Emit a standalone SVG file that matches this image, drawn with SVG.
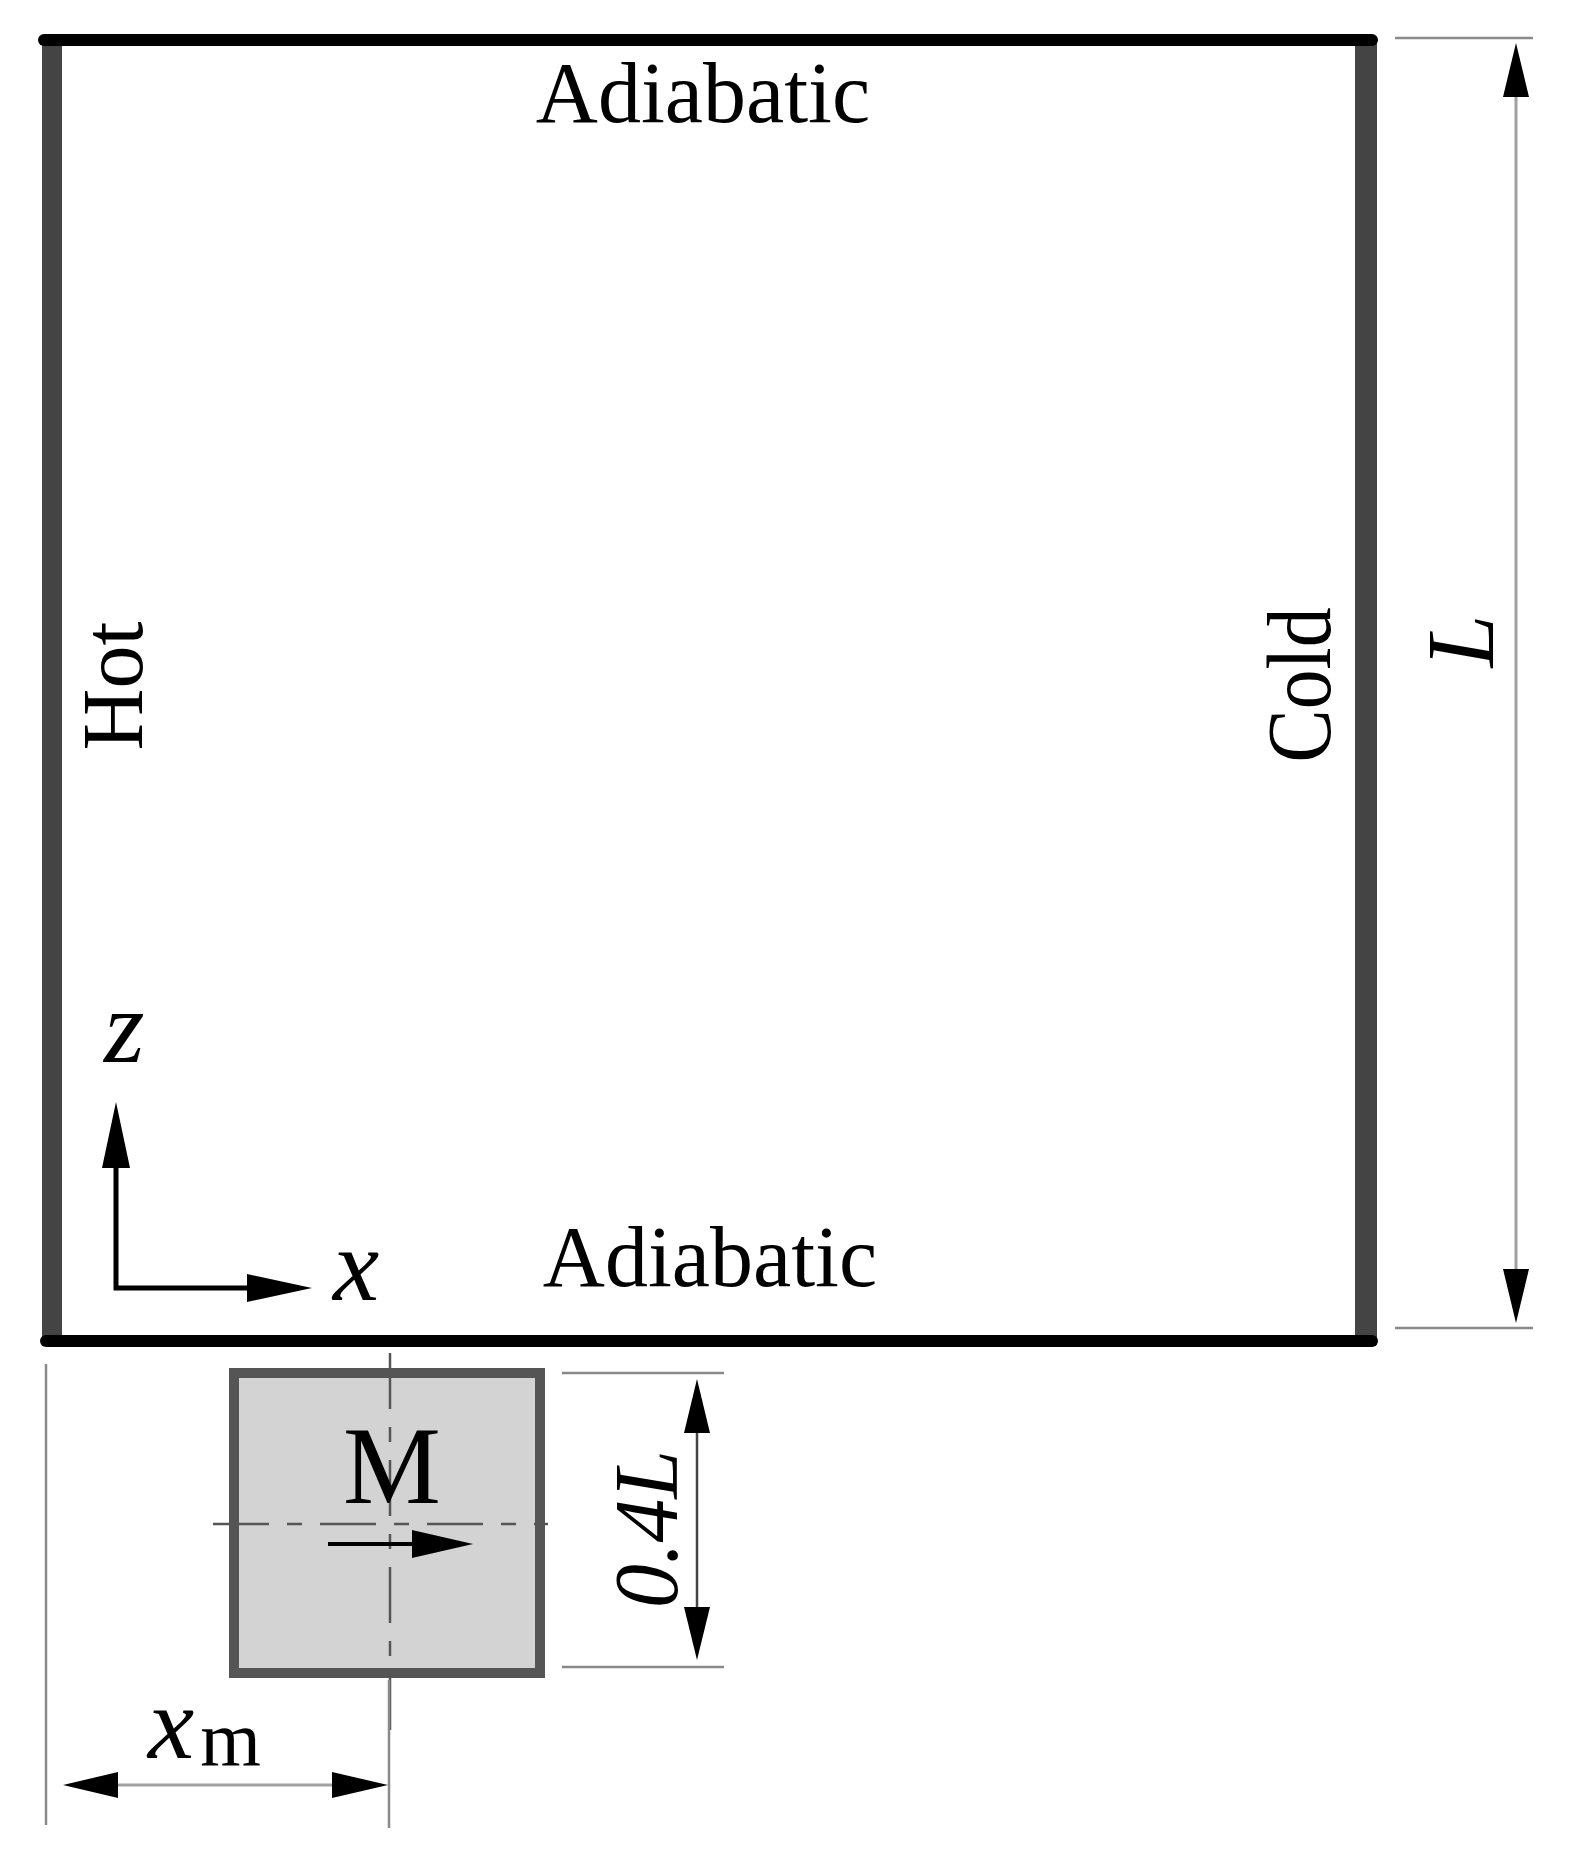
<svg xmlns="http://www.w3.org/2000/svg" width="1574" height="1861" viewBox="0 0 1574 1861">
<style>
.t{font-family:"Liberation Serif","Times New Roman",serif;fill:#000}
.i{font-style:italic}
.ext{stroke:#8a8a8a;stroke-width:2.5;fill:none}
.dim{stroke:#a0a0a0;stroke-width:3;fill:none}
.ah{fill:#000}
.cl{stroke:#555;stroke-width:2.5;fill:none;stroke-dasharray:56 18 15 18}
</style>
<rect width="1574" height="1861" fill="#fff"/>
<g id="cavity">
<line x1="52" y1="36" x2="52" y2="1345" stroke="#444" stroke-width="20"/>
<line x1="1366" y1="42" x2="1366" y2="1345" stroke="#444" stroke-width="22"/>
<line x1="44" y1="40" x2="1372" y2="40" stroke="#000" stroke-width="12" stroke-linecap="round"/>
<line x1="46" y1="1341" x2="1372" y2="1341" stroke="#000" stroke-width="12" stroke-linecap="round"/>
</g>
<g id="labels">
<text class="t" x="703" y="122" font-size="86" text-anchor="middle">Adiabatic</text>
<text class="t" x="710" y="1286" font-size="86" text-anchor="middle">Adiabatic</text>
<text class="t" font-size="86" text-anchor="middle" transform="translate(142,686) rotate(-90)">Hot</text>
<text class="t" font-size="90" text-anchor="middle" textLength="155" lengthAdjust="spacingAndGlyphs" transform="translate(1330,685) rotate(-90)">Cold</text>
</g>
<g id="axes">
<polyline points="116,1168 116,1288 250,1288" fill="none" stroke="#000" stroke-width="5"/>
<polygon class="ah" points="116,1102 102,1168 130,1168"/>
<polygon class="ah" points="312,1288 247,1274 247,1302"/>
<text class="t i" x="104" y="1062" font-size="104">z</text>
<text class="t i" x="333" y="1300" font-size="104">x</text>
</g>
<g id="dim-L">
<line class="ext" x1="1395" y1="38" x2="1533" y2="38"/>
<line class="ext" x1="1395" y1="1328" x2="1533" y2="1328"/>
<line class="dim" x1="1516" y1="90" x2="1516" y2="1280"/>
<polygon class="ah" points="1516,43 1503,97 1529,97"/>
<polygon class="ah" points="1516,1323 1503,1269 1529,1269"/>
<text class="t i" font-size="95" text-anchor="middle" transform="translate(1493,641) rotate(-90)">L</text>
</g>
<g id="magnet">
<rect x="234" y="1373" width="306" height="300" fill="#d3d3d3" stroke="#555" stroke-width="10"/>
<line class="cl" x1="213" y1="1524" x2="548" y2="1524"/>
<line class="cl" x1="390" y1="1353" x2="390" y2="1735"/>
<text class="t" x="392" y="1503" font-size="110" text-anchor="middle">M</text>
<line x1="328" y1="1544" x2="415" y2="1544" stroke="#000" stroke-width="4"/>
<polygon class="ah" points="473,1544 412,1530 412,1558"/>
</g>
<g id="dim-04L">
<line class="ext" x1="562" y1="1373" x2="724" y2="1373"/>
<line class="ext" x1="562" y1="1667" x2="724" y2="1667"/>
<line x1="697" y1="1425" x2="697" y2="1615" stroke="#444" stroke-width="2.5"/>
<polygon class="ah" points="697,1379 684,1433 710,1433"/>
<polygon class="ah" points="697,1660 684,1607 710,1607"/>
<text class="t i" font-size="92" text-anchor="middle" textLength="158" lengthAdjust="spacingAndGlyphs" transform="translate(677,1529) rotate(-90)">0.4L</text>
</g>
<g id="dim-xm">
<line class="ext" x1="46" y1="1364" x2="46" y2="1825"/>
<line class="ext" x1="389" y1="1680" x2="389" y2="1828"/>
<line class="dim" x1="110" y1="1785" x2="340" y2="1785"/>
<polygon class="ah" points="63,1785 118,1772 118,1798"/>
<polygon class="ah" points="388,1785 332,1772 332,1798"/>
<text class="t" x="148" y="1758" font-size="104"><tspan class="i">x</tspan><tspan font-size="78" dx="6" dy="7">m</tspan></text>
</g>
</svg>
